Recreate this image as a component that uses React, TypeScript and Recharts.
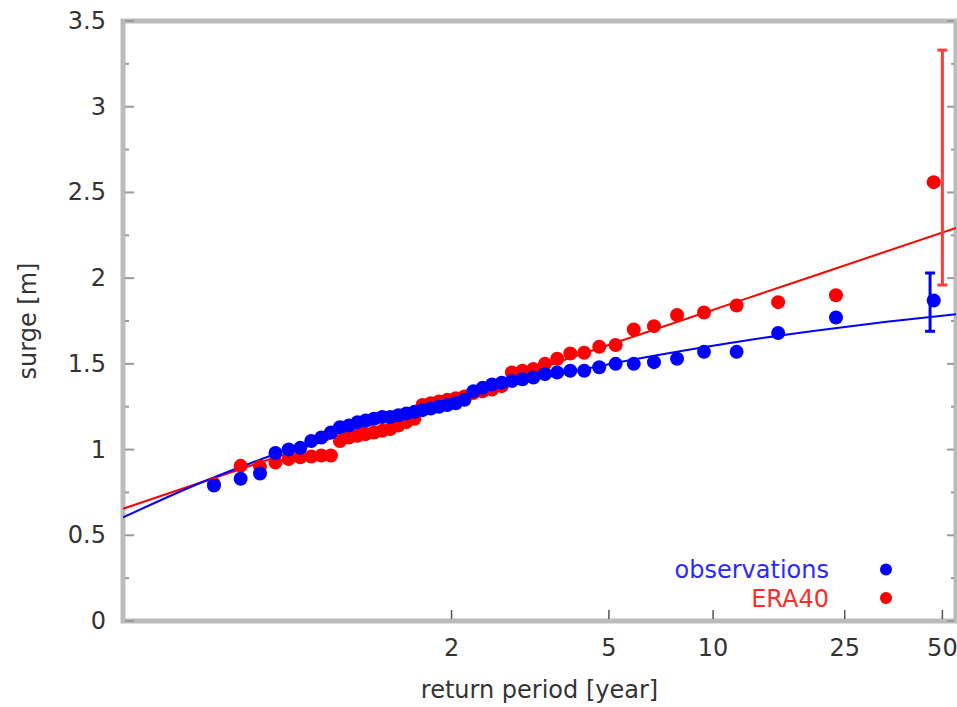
import React from 'react';
import {
  ComposedChart,
  Scatter,
  Line,
  XAxis,
  YAxis,
  ReferenceArea,
  ErrorBar,
  Legend,
  Label,
} from 'recharts';

const WIDTH = 957;
const HEIGHT = 707;
const FONT = '"DejaVu Sans", "Liberation Sans", sans-serif';

// empirical return periods (years) of the annual maxima, largest event first
const returnPeriods = [
  47, 23.5, 15.67, 11.75, 9.4, 7.833, 6.714, 5.875, 5.222, 4.7, 4.273, 3.917,
  3.615, 3.357, 3.133, 2.938, 2.765, 2.611, 2.474, 2.35, 2.238, 2.136, 2.043,
  1.958, 1.88, 1.808, 1.741, 1.679, 1.621, 1.567, 1.516, 1.469, 1.424, 1.382,
  1.343, 1.306, 1.27, 1.237, 1.205, 1.175, 1.146, 1.119, 1.093, 1.068, 1.044,
  1.022,
];

// surge [m], same order as returnPeriods
const observations = [
  1.87, 1.77, 1.68, 1.57, 1.57, 1.53, 1.51, 1.5, 1.5, 1.48, 1.46, 1.46, 1.45,
  1.44, 1.42, 1.41, 1.4, 1.39, 1.38, 1.36, 1.34, 1.29, 1.27, 1.26, 1.25, 1.24,
  1.23, 1.22, 1.21, 1.2, 1.19, 1.19, 1.18, 1.17, 1.16, 1.14, 1.13, 1.1, 1.07,
  1.05, 1.01, 1.0, 0.98, 0.86, 0.83, 0.79,
];

const era40 = [
  2.56, 1.9, 1.86, 1.84, 1.8, 1.785, 1.72, 1.7, 1.61, 1.6, 1.565, 1.56, 1.53,
  1.5, 1.47, 1.46, 1.45, 1.37, 1.35, 1.34, 1.33, 1.31, 1.3, 1.29, 1.28, 1.27,
  1.26, 1.18, 1.16, 1.14, 1.12, 1.11, 1.1, 1.09, 1.08, 1.07, 1.05, 0.965,
  0.965, 0.96, 0.955, 0.945, 0.925, 0.9, 0.905, 0.8,
];

// fitted return-level curves; x given as Gumbel reduced variate
const obsFitU = [-2, -1.5, -1, -0.5, 0, 0.5, 1, 1.5, 2, 2.5, 3, 3.5, 4];
const obsFit = [0.604, 0.786, 0.945, 1.085, 1.209, 1.318, 1.414, 1.498, 1.572, 1.638, 1.695, 1.746, 1.79];
const eraFitU = [-2, -1, 0, 1, 2, 3, 4];
const eraFit = [0.655, 0.928, 1.201, 1.474, 1.747, 2.02, 2.293];

// confidence intervals of the 50-year return level (observations, ERA40)
const intervalPeriods = [45.8, 50];
const intervalLow = [1.69, 1.96];
const intervalHigh = [2.03, 3.33];

const xTickPeriods = [2, 5, 10, 25, 50];
const yTicks = [0, 0.25, 0.5, 0.75, 1, 1.25, 1.5, 1.75, 2, 2.25, 2.5, 2.75, 3, 3.25, 3.5];

const seriesNames = ['observations', 'ERA40'];
const seriesColors = ['#0000ff', '#ff0000'];
const seriesTextColors = ['#2a2aff', '#ff2a2a'];
const intervalColors = ['#0000ff', '#ff3a3a'];

// Gumbel reduced variate of a return period
const reduced = (T: number) => -Math.log(-Math.log(1 - 1 / T));

const obsPoints = returnPeriods.map((T, i) => ({ u: reduced(T), v: observations[i] }));
const eraPoints = returnPeriods.map((T, i) => ({ u: reduced(T), v: era40[i] }));
const obsFitData = obsFitU.map((u, i) => ({ u, v: obsFit[i] }));
const eraFitData = eraFitU.map((u, i) => ({ u, v: eraFit[i] }));
const intervalData = intervalPeriods.map((T, i) => [
  {
    u: reduced(T),
    v: (intervalLow[i] + intervalHigh[i]) / 2,
    err: (intervalHigh[i] - intervalLow[i]) / 2,
  },
]);
const xTicks = xTickPeriods.map(reduced);

const PLOT_LEFT = 123;
const PLOT_RIGHT = 956;
const PLOT_TOP = 21;
const PLOT_BOTTOM = 621;
const PLOT_W = PLOT_RIGHT - PLOT_LEFT;

const YTick = (props: any) => {
  const { x, y, payload } = props;
  const v = payload.value as number;
  const major = Math.abs(v * 2 - Math.round(v * 2)) < 1e-6;
  const right = x + PLOT_W;
  return (
    <g>
      <line x1={x + 2} x2={x + (major ? 11 : 6)} y1={y} y2={y} stroke="#9a9a9a" strokeWidth={2} />
      <line x1={right - 2} x2={right - (major ? 9 : 5)} y1={y} y2={y} stroke="#9a9a9a" strokeWidth={2} />
      {major && (
        <text
          x={x - 17}
          y={y}
          textAnchor="end"
          dominantBaseline="central"
          fill="#333"
          fontSize={24}
          fontFamily={FONT}
        >
          {String(v)}
        </text>
      )}
    </g>
  );
};

const XTick = (props: any) => {
  const { x, y, payload } = props;
  const idx = xTicks.findIndex((t) => Math.abs(t - payload.value) < 1e-6);
  const label = idx >= 0 ? xTickPeriods[idx] : '';
  return (
    <g>
      <line x1={x} x2={x} y1={y - 2} y2={y - 11} stroke="#555" strokeWidth={1.5} />
      <text
        x={x}
        y={y + 27}
        textAnchor="middle"
        dominantBaseline="central"
        fill="#333"
        fontSize={24}
        fontFamily={FONT}
      >
        {String(label)}
      </text>
    </g>
  );
};

const Dot = (color: string) => (props: any) => {
  const { cx, cy } = props;
  if (cx == null || cy == null) return <g />;
  return <circle cx={cx} cy={cy} r={7} fill={color} />;
};

const Hidden = () => <g />;

const LegendContent = () => (
  <svg width={WIDTH} height={HEIGHT} style={{ position: 'absolute', left: 0, top: 0 }}>
    {seriesNames.map((n, i) => (
      <g key={n}>
        <text
          x={829}
          y={570 + 28.5 * i}
          textAnchor="end"
          dominantBaseline="central"
          fill={seriesTextColors[i]}
          fontSize={24}
          fontFamily={FONT}
        >
          {n}
        </text>
        <circle cx={886} cy={569.5 + 28.5 * i} r={6} fill={seriesColors[i]} />
      </g>
    ))}
  </svg>
);

export default function App() {
  return (
    <div
      style={{
        position: 'absolute',
        left: 0,
        top: 0,
        width: WIDTH,
        height: HEIGHT,
        background: '#fff',
      }}
    >
      <ComposedChart
        width={WIDTH}
        height={HEIGHT}
        margin={{ top: PLOT_TOP, right: WIDTH - PLOT_RIGHT, bottom: 0, left: 0 }}
      >
        <XAxis
          type="number"
          dataKey="u"
          domain={[-2, 4]}
          ticks={xTicks}
          interval={0}
          tick={<XTick />}
          tickLine={false}
          axisLine={false}
          tickSize={0}
          tickMargin={0}
          height={HEIGHT - PLOT_BOTTOM}
          allowDataOverflow
        >
          <Label
            content={() => (
              <text
                x={(PLOT_LEFT + PLOT_RIGHT) / 2}
                y={698}
                textAnchor="middle"
                fill="#333"
                fontSize={24}
                fontFamily={FONT}
              >
                return period [year]
              </text>
            )}
          />
        </XAxis>
        <YAxis
          type="number"
          dataKey="v"
          domain={[0, 3.5]}
          ticks={yTicks}
          interval={0}
          tick={<YTick />}
          tickLine={false}
          axisLine={false}
          tickSize={0}
          tickMargin={0}
          width={PLOT_LEFT}
          allowDataOverflow
        >
          <Label
            content={() => (
              <text
                x={36}
                y={(PLOT_TOP + PLOT_BOTTOM) / 2}
                transform={`rotate(-90, 36, ${(PLOT_TOP + PLOT_BOTTOM) / 2})`}
                textAnchor="middle"
                fill="#333"
                fontSize={24}
                fontFamily={FONT}
              >
                surge [m]
              </text>
            )}
          />
        </YAxis>
        <ReferenceArea
          x1={-2}
          x2={4}
          y1={0}
          y2={3.5}
          fill="none"
          fillOpacity={0}
          stroke="#bbbbbb"
          strokeWidth={5}
          ifOverflow="visible"
        />
        <Line
          data={eraFitData}
          dataKey="v"
          type="monotone"
          stroke="#ff0000"
          strokeWidth={2}
          dot={false}
          activeDot={false}
          legendType="none"
          isAnimationActive={false}
        />
        <Line
          data={obsFitData}
          dataKey="v"
          type="monotone"
          stroke="#0000ff"
          strokeWidth={2}
          dot={false}
          activeDot={false}
          legendType="none"
          isAnimationActive={false}
        />
        <Scatter
          name={seriesNames[1]}
          data={eraPoints}
          fill={seriesColors[1]}
          shape={Dot(seriesColors[1])}
          isAnimationActive={false}
        />
        <Scatter
          name={seriesNames[0]}
          data={obsPoints}
          fill={seriesColors[0]}
          shape={Dot(seriesColors[0])}
          isAnimationActive={false}
        />
        {intervalData.map((d, i) => (
          <Scatter
            key={i}
            data={d}
            shape={Hidden}
            legendType="none"
            isAnimationActive={false}
          >
            <ErrorBar
              dataKey="err"
              direction="y"
              width={5}
              stroke={intervalColors[i]}
              strokeWidth={3}
              isAnimationActive={false}
            />
          </Scatter>
        ))}
        <Legend
          layout="horizontal"
          verticalAlign="middle"
          align="center"
          wrapperStyle={{ left: 0, top: 0, width: WIDTH, height: HEIGHT, pointerEvents: 'none' }}
          content={() => <LegendContent />}
        />
      </ComposedChart>
    </div>
  );
}
